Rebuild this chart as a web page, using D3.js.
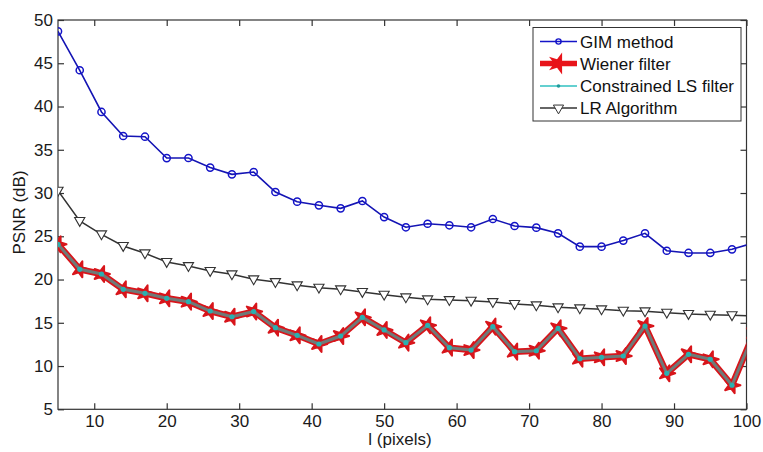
<!DOCTYPE html>
<html><head><meta charset="utf-8">
<script src="https://cdn.jsdelivr.net/npm/d3@7"></script>
<style>body{margin:0;background:#fff;} text{font-family:"Liberation Sans",Arial,sans-serif;}</style>
</head><body><svg id="c" width="763" height="452"></svg>
<script>
const xValues = [5,8,11,14,17,20,23,26,29,32,35,38,41,44,47,50,53,56,59,62,65,68,71,74,77,80,83,86,89,92,95,98,101];
const gim = [48.69,44.19,39.37,36.59,36.51,34.04,34.05,32.94,32.16,32.43,30.12,29.0,28.58,28.23,29.08,27.22,26.04,26.45,26.27,26.04,27.0,26.19,26.0,25.34,23.8,23.8,24.5,25.34,23.33,23.07,23.07,23.49,24.24];
const wiener = [24.07,21.18,20.64,18.87,18.41,17.83,17.44,16.36,15.7,16.3,14.43,13.55,12.55,13.47,15.63,14.17,12.7,14.71,12.12,11.85,14.55,11.66,11.77,14.36,10.85,11.01,11.16,14.63,9.16,11.36,10.78,7.78,13.8];
const cls = wiener.slice();
const lr = [30.27,26.77,25.23,23.88,23.03,22.03,21.56,20.99,20.6,20.03,19.71,19.33,19.06,18.87,18.56,18.25,17.94,17.71,17.63,17.55,17.4,17.17,17.02,16.79,16.67,16.56,16.4,16.33,16.17,16.02,15.94,15.87,15.8];
const xTicks = [10,20,30,40,50,60,70,80,90,100];
const yTicks = [5,10,15,20,25,30,35,40,45,50];
const legendLabels = ["GIM method","Wiener filter","Constrained LS filter","LR Algorithm"];

const svg = d3.select("#c");
const L=58, R=746.5, T=20, B=409.3;
const x = d3.scaleLinear().domain([5,100]).range([L,R]);
const y = d3.scaleLinear().domain([5,50]).range([B,T]);
const axisColor="#333";
const FS=17;

svg.append("defs").append("clipPath").attr("id","clip").append("rect")
  .attr("x",L).attr("y",T).attr("width",R-L).attr("height",B-T);

svg.append("rect").attr("x",L).attr("y",T).attr("width",R-L).attr("height",B-T)
  .attr("fill","none").attr("stroke",axisColor).attr("stroke-width",1.2);

const gx = svg.append("g").attr("transform",`translate(0,${B})`)
  .call(d3.axisBottom(x).tickValues(xTicks).tickSizeInner(-6).tickSizeOuter(0).tickPadding(6));
const gxt = svg.append("g").attr("transform",`translate(0,${T})`)
  .call(d3.axisTop(x).tickValues(xTicks).tickSizeInner(-6).tickSizeOuter(0).tickFormat(""));
const gy = svg.append("g").attr("transform",`translate(${L},0)`)
  .call(d3.axisLeft(y).tickValues(yTicks).tickSizeInner(-6).tickSizeOuter(0).tickPadding(5));
const gyr = svg.append("g").attr("transform",`translate(${R},0)`)
  .call(d3.axisRight(y).tickValues(yTicks).tickSizeInner(-6).tickSizeOuter(0).tickFormat(""));
[gx,gxt,gy,gyr].forEach(g=>{
  g.select(".domain").remove();
  g.selectAll("line").attr("stroke",axisColor).attr("stroke-width",1.2);
  g.selectAll("text").attr("font-size",FS).attr("fill","#1a1a1a").attr("font-family","Liberation Sans, Arial, sans-serif");
});

svg.append("text").attr("x",400).attr("y",445).attr("text-anchor","middle")
  .attr("font-size",FS).attr("fill","#1a1a1a").text("l (pixels)");
svg.append("text").attr("transform","translate(25,212.5) rotate(-90)").attr("text-anchor","middle")
  .attr("font-size",FS).attr("fill","#1a1a1a").text("PSNR (dB)");

const plot = svg.append("g").attr("clip-path","url(#clip)");
const line = d3.line().x((d,i)=>x(xValues[i])).y(d=>y(d));

const star = d3.symbol().type(d3.symbolStar).size(80);
const tri = d3.symbol().type(d3.symbolTriangle).size(45);

// LR
plot.append("path").datum(lr).attr("d",line).attr("fill","none").attr("stroke","#333").attr("stroke-width",1.5);
plot.selectAll(".lr").data(lr).join("path").attr("d",tri)
  .attr("transform",(d,i)=>`translate(${x(xValues[i])},${y(d)-0.5}) rotate(180)`)
  .attr("fill","#fff").attr("stroke","#333").attr("stroke-width",1.1);

// GIM
plot.append("path").datum(gim).attr("d",line).attr("fill","none").attr("stroke","#1414b4").attr("stroke-width",1.6);
plot.selectAll(".gim").data(gim).join("circle")
  .attr("cx",(d,i)=>x(xValues[i])).attr("cy",d=>y(d)).attr("r",3.6)
  .attr("fill","none").attr("stroke","#1414c8").attr("stroke-width",1.5);

// Wiener
plot.append("path").datum(wiener).attr("d",line).attr("fill","none").attr("stroke","#d8151b").attr("stroke-width",6.5).attr("stroke-linejoin","round");
plot.selectAll(".wi").data(wiener).join("path").attr("d",star)
  .attr("transform",(d,i)=>`translate(${x(xValues[i])},${y(d)}) rotate(18)`)
  .attr("fill","#d8151b").attr("stroke","#d8151b").attr("stroke-width",2).attr("stroke-linejoin","round");

// Constrained LS
plot.append("path").datum(cls).attr("d",line).attr("fill","none").attr("stroke","#6e7a78").attr("stroke-width",3).attr("stroke-linejoin","round");
plot.selectAll(".cls").data(cls).join("circle")
  .attr("cx",(d,i)=>x(xValues[i])).attr("cy",d=>y(d)).attr("r",2.6)
  .attr("fill","#2ab0b0");

// legend
const lg = svg.append("g");
lg.append("rect").attr("x",533).attr("y",27.5).attr("width",208).attr("height",93.5)
  .attr("fill","#fff").attr("stroke","#333").attr("stroke-width",1);
const ly = [41.5,63.5,86,108];
const lx0=540, lx1=577, lxm=(lx0+lx1)/2;
lg.append("line").attr("x1",lx0).attr("x2",lx1).attr("y1",ly[0]).attr("y2",ly[0]).attr("stroke","#1414c8").attr("stroke-width",1.5);
lg.append("circle").attr("cx",lxm).attr("cy",ly[0]).attr("r",2.6).attr("fill","none").attr("stroke","#1414c8").attr("stroke-width",1.4);
lg.append("line").attr("x1",lx0).attr("x2",lx1).attr("y1",ly[1]).attr("y2",ly[1]).attr("stroke","#e8141a").attr("stroke-width",5.5);
lg.append("path").attr("d",star).attr("transform",`translate(${lxm},${ly[1]}) rotate(18)`).attr("fill","#e8141a").attr("stroke","#e8141a").attr("stroke-width",2);
lg.append("line").attr("x1",lx0).attr("x2",lx1).attr("y1",ly[2]).attr("y2",ly[2]).attr("stroke","#30c0c0").attr("stroke-width",1.6);
lg.append("circle").attr("cx",lxm).attr("cy",ly[2]).attr("r",1.8).attr("fill","#209a9a");
lg.append("line").attr("x1",lx0).attr("x2",lx1).attr("y1",ly[3]).attr("y2",ly[3]).attr("stroke","#333").attr("stroke-width",1.4);
lg.append("path").attr("d",tri).attr("transform",`translate(${lxm},${ly[3]}) rotate(180)`).attr("fill","#fff").attr("stroke","#333").attr("stroke-width",1);
lg.selectAll(".lt").data(legendLabels).join("text")
  .attr("x",580).attr("y",(d,i)=>ly[i]+6).attr("font-size",FS).attr("fill","#111").text(d=>d);
</script></body></html>
